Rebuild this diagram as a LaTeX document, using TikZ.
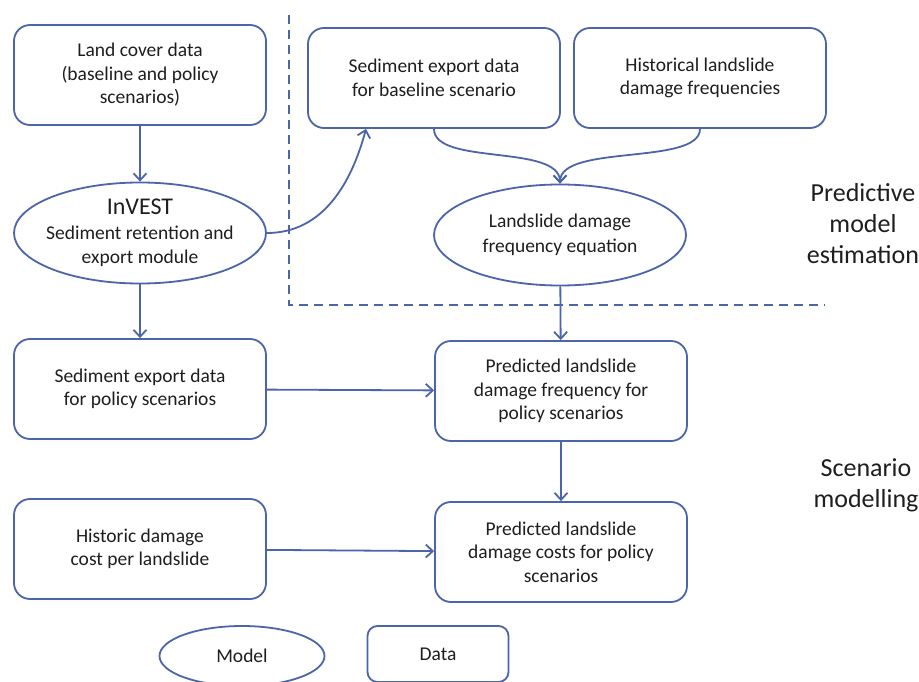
\documentclass[tikz,border=0pt]{standalone}
\usepackage{fontspec}
\setmainfont{Carlito}
\usetikzlibrary{arrows.meta,shapes.geometric}
\definecolor{flowblue}{RGB}{76,100,170}
\definecolor{inktext}{RGB}{30,30,30}

\begin{document}
\begin{tikzpicture}[x=1pt,y=-1pt,
  data/.style={draw=flowblue,line width=1.8pt,rounded corners=16pt,
    minimum width=252pt,minimum height=100pt,align=center,text=inktext,
    font=\fontsize{19.5}{23.5}\selectfont},
  model/.style={draw=flowblue,line width=1.8pt,ellipse,minimum width=252pt,
    minimum height=101pt,inner xsep=-30pt,inner ysep=-8pt,align=center,
    text=inktext,font=\fontsize{19.5}{24.5}\selectfont},
  link/.style={draw=flowblue,line width=1.8pt,
    -{Straight Barb[length=7pt,width=13pt]}},
  region/.style={draw=flowblue,line width=1.8pt,dash pattern=on 9pt off 6pt},
  phase/.style={align=center,text=inktext,font=\fontsize{26}{31}\selectfont}]
  \useasboundingbox (0,0) rectangle (919,682);

  \node[data] (land) at (140,75) {Land cover data\\(baseline and policy\\scenarios)};
  \node[model] (invest) at (140,233)
    {{\fontsize{24}{26}\selectfont InVEST}\\Sediment retention and\\export module};
  \node[data] (sedbase) at (434,78) {Sediment export data\\for baseline scenario};
  \node[data] (histfreq) at (700,78) {Historical landslide\\damage frequencies};
  \node[model] (freqeq) at (560,235) {Landslide damage\\frequency equation};
  \node[data] (sedpol) at (140,389) {Sediment export data\\for policy scenarios};
  \node[data] (predfreq) at (561,391) {Predicted landslide\\damage frequency for\\policy scenarios};
  \node[data] (histcost) at (140,549) {Historic damage\\cost per landslide};
  \node[data] (predcost) at (561,552) {Predicted landslide\\damage costs for policy\\scenarios};

  \node[model,minimum width=165pt,minimum height=60pt] (legmodel) at (242,656) {Model};
  \node[data,minimum width=141pt,minimum height=56pt,rounded corners=10pt] (legdata) at (438,654) {Data};

  \node[phase] (predlabel) at (863,224) {Predictive\\model\\estimation};
  \node[phase] (scenlabel) at (866,485) {Scenario\\modelling};

  \draw[region] (289,15) -- (289,305) -- (825,305);

  \draw[link] (land) -- (invest);
  \draw[link] (invest) -- (sedpol);
  \draw[link] (invest.east) to[out=0,in=-105] ([xshift=-68pt]sedbase.south);
  \draw[link] (sedbase.south) .. controls +(0,37) and +(0,-40) .. (freqeq.north);
  \draw[link] (histfreq.south) .. controls +(0,37) and +(0,-40) .. (freqeq.north);
  \draw[link] (freqeq) -- (predfreq);
  \draw[link] (predfreq) -- (predcost);
  \draw[link] (sedpol) -- (predfreq);
  \draw[link] (histcost) -- (predcost);
\end{tikzpicture}
\end{document}
